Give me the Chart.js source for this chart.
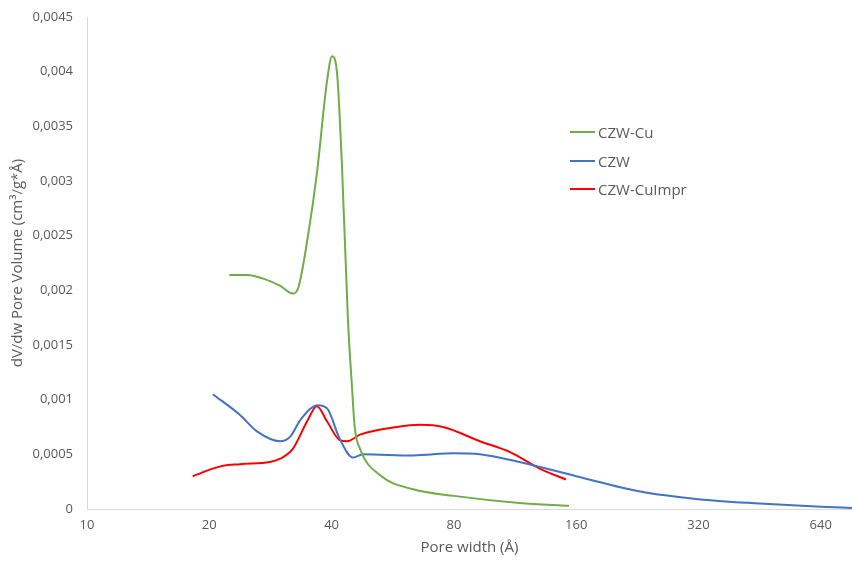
<!DOCTYPE html>
<html lang="en">

<head>
    <meta charset="UTF-8" />
    <title>Pore size distribution</title>
    <script src="https://cdn.jsdelivr.net/npm/chart.js"></script>
    <style>
        body { margin: 0; background: #fff; font-family: "Open Sans", sans-serif; }
        .wrap { position: relative; width: 852px; height: 561px; }
        .legend { position: absolute; left: 570px; top: 118px; color: #595959; font-size: 15px; }
        .legend div { display: flex; align-items: center; height: 28.5px; }
        .legend span { display: inline-block; width: 25px; height: 2px; margin-right: 3px; }
    </style>
</head>

<body>
    <div class="wrap">
        <canvas id="poreChart" width="852" height="561"></canvas>
        <div class="legend">
            <div><span style="background:#70ad47"></span>CZW-Cu</div>
            <div><span style="background:#4472c4"></span>CZW</div>
            <div><span style="background:#ff0000"></span>CZW-CuImpr</div>
        </div>
    </div>

    <script>
        // pore width (Å) and dV/dw (cm³/g*Å) per sample
        const cuWidth = [22.4, 24.8, 27.5, 29.9, 32.1, 33.1, 35.0, 36.8, 39.0, 40.1, 41.2, 42.4, 43.9, 44.9, 45.6, 47.0, 52.6, 63.5, 80, 116, 153.6];
        const cuVolume = [0.00214, 0.00214, 0.0021, 0.00204, 0.00197, 0.00202, 0.0025, 0.00307, 0.00392, 0.00414, 0.00401, 0.00316, 0.00172, 0.00112, 0.00075, 0.00055, 0.00031, 0.00018, 0.00012, 0.000055, 0.00003];

        const czwWidth = [20.4, 23.8, 26.2, 29.9, 31.6, 33.6, 37.0, 39.0, 41.9, 45.2, 47.8, 63.5, 80, 92.7, 116, 160, 230, 320, 453, 640, 764];
        const czwVolume = [0.00105, 0.00086, 0.00071, 0.00062, 0.00066, 0.00082, 0.00095, 0.00092, 0.00064, 0.00047, 0.0005, 0.00049, 0.00051, 0.0005, 0.00043, 0.0003, 0.00016, 0.00009, 0.00005, 0.00002, 0.00001];

        const imprWidth = [18.2, 21.3, 23.8, 28.2, 29.9, 32.1, 34.8, 36.8, 39.0, 41.9, 43.7, 47.0, 57.9, 66.0, 75.2, 92.7, 110, 130, 151];
        const imprVolume = [0.0003, 0.00039, 0.00041, 0.00043, 0.00046, 0.00055, 0.0008, 0.00094, 0.0008, 0.00063, 0.00062, 0.00068, 0.00075, 0.00077, 0.00075, 0.00062, 0.00052, 0.00037, 0.00027];

        const xTicks = [10, 20, 40, 80, 160, 320, 640];

        const toPoints = (xs, ys) => xs.map((x, i) => ({ x: x, y: ys[i] }));
        const fmt = v => Number(v.toFixed(4)).toString().replace('.', ',');
        const tickFont = { family: '"Open Sans", sans-serif', size: 13 };
        const titleFont = { family: '"Open Sans", sans-serif', size: 15 };

        const series = (label, xs, ys, color) => ({
            label: label,
            data: toPoints(xs, ys),
            borderColor: color,
            backgroundColor: color,
            borderWidth: 2,
            pointRadius: 0,
            tension: 0.4,
            cubicInterpolationMode: 'monotone'
        });

        new Chart(document.getElementById('poreChart'), {
            type: 'line',
            data: {
                datasets: [
                    series('CZW-Cu', cuWidth, cuVolume, '#70ad47'),
                    series('CZW', czwWidth, czwVolume, '#4472c4'),
                    series('CZW-CuImpr', imprWidth, imprVolume, '#ff0000')
                ]
            },
            options: {
                responsive: false,
                animation: false,
                layout: { padding: { top: 17, right: 0, left: 0, bottom: 0 } },
                plugins: { legend: { display: false }, tooltip: { enabled: false } },
                scales: {
                    x: {
                        type: 'logarithmic',
                        min: 10,
                        max: 764,
                        grid: { display: false, drawTicks: false },
                        border: { color: '#d9d9d9', width: 1 },
                        afterBuildTicks: s => { s.ticks = xTicks.map(v => ({ value: v })); },
                        afterFit: s => { s.height = 52; s.paddingLeft = 0; s.paddingRight = 0; },
                        ticks: { color: '#595959', font: tickFont, padding: 8, maxRotation: 0, callback: v => String(v) },
                        title: { display: true, text: 'Pore width (Å)', color: '#595959', font: titleFont, padding: { top: 2 } }
                    },
                    y: {
                        min: 0,
                        max: 0.0045,
                        grid: { display: false, drawTicks: false },
                        border: { color: '#d9d9d9', width: 1 },
                        afterFit: s => { s.width = 87; s.paddingTop = 0; s.paddingBottom = 0; },
                        ticks: { stepSize: 0.0005, color: '#595959', font: tickFont, padding: 14, callback: v => fmt(v) },
                        title: { display: true, text: 'dV/dw Pore Volume (cm³/g*Å)', color: '#595959', font: titleFont, padding: { top: 9, bottom: 4 } }
                    }
                }
            }
        });
    </script>
</body>

</html>
